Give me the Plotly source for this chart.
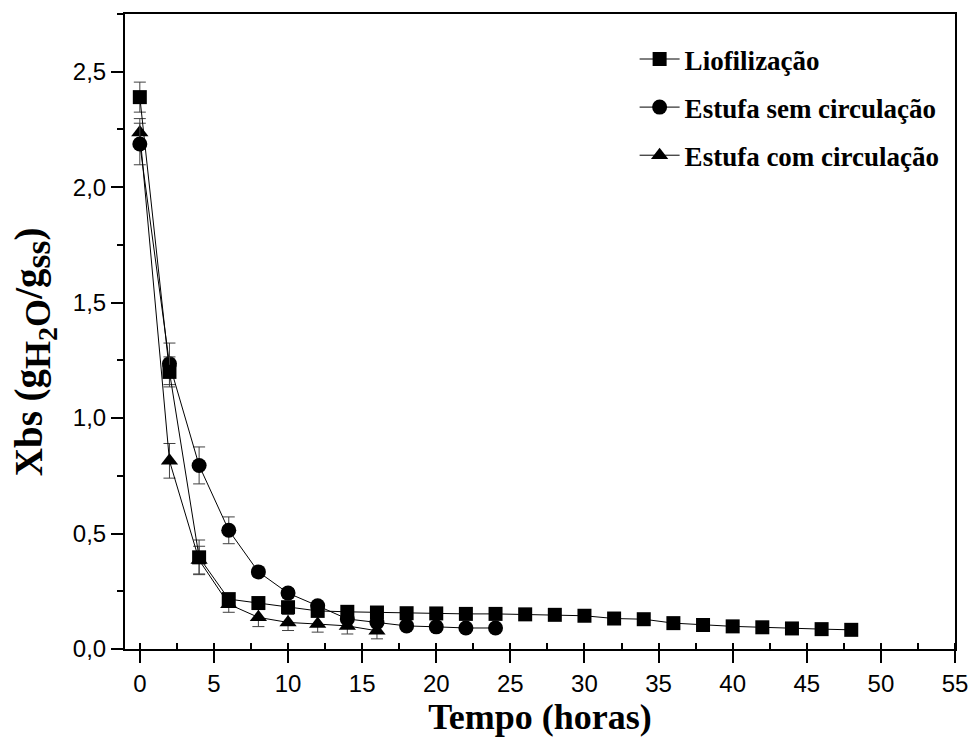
import plotly.graph_objects as go

# ---------------- data ----------------
lio_t = [0, 2, 4, 6, 8, 10, 12, 14, 16, 18, 20, 22, 24, 26, 28, 30, 32, 34, 36, 38, 40, 42, 44, 46, 48]
lio_y = [2.39, 1.20, 0.397, 0.216, 0.199, 0.181, 0.165, 0.161, 0.158, 0.155, 0.154, 0.152, 0.152,
         0.150, 0.148, 0.144, 0.132, 0.129, 0.112, 0.104, 0.098, 0.094, 0.089, 0.086, 0.083]
lio_err = [0.065, 0.065, 0.075, 0.02, 0.015, 0.015, 0.01, 0.01, 0.01, 0.01, 0.01, 0.01, 0.01,
           0.005, 0.005, 0.005, 0.005, 0.005, 0.005, 0.005, 0.005, 0.005, 0.005, 0.005, 0.005]

sem_t = [0, 2, 4, 6, 8, 10, 12, 14, 16, 18, 20, 22, 24]
sem_y = [2.187, 1.235, 0.795, 0.514, 0.334, 0.242, 0.187, 0.130, 0.115, 0.100, 0.096, 0.091, 0.091]
sem_err = [0.09, 0.09, 0.08, 0.058, 0.02, 0.02, 0.015, 0.01, 0.01, 0.01, 0.01, 0.01, 0.01]

com_t = [0, 2, 4, 6, 8, 10, 12, 14, 16]
com_y = [2.237, 0.815, 0.385, 0.194, 0.137, 0.115, 0.108, 0.100, 0.079]
com_err = [0.06, 0.075, 0.06, 0.035, 0.04, 0.035, 0.035, 0.035, 0.035]

names = ["Liofilização", "Estufa sem circulação", "Estufa com circulação"]

x_title = "Tempo (horas)"
y_title = ('Xbs (g<sub><span style="font-size:36px">H<sub><span style="font-size:28px">2</span></sub>O</span></sub>'
           '/g<sub><span style="font-size:36px">ss</span></sub>)')

# ---------------- figure ----------------
serif = "Liberation Serif, Times New Roman, serif"
sans = "Liberation Sans, Arial, sans-serif"
narrow = "Liberation Sans Narrow, Arial Narrow, Liberation Sans, Arial, sans-serif"

fig = go.Figure()

def add(t, y, e, name, symbol, size, group, rank):
    fig.add_trace(go.Scatter(
        x=t, y=y, name=name, mode="lines+markers",
        legendgroup=group, legendrank=rank,
        line=dict(color="black", width=1),
        marker=dict(symbol=symbol, size=size, color="black", line=dict(width=0)),
        error_y=dict(type="data", array=e, visible=True, color="#404040", thickness=1, width=6),
    ))

add(com_t, com_y, com_err, names[2], "triangle-up", 15, "c", 3)
add(sem_t, sem_y, sem_err, names[1], "circle", 15, "b", 2)
add(lio_t, lio_y, lio_err, names[0], "square", 14, "a", 1)

fig.update_layout(
    width=980, height=740,
    margin=dict(l=125, r=18, t=12, b=90),
    paper_bgcolor="white", plot_bgcolor="white",
    separators=",.",
    showlegend=True,
    legend=dict(
        x=0.614, y=0.967, xanchor="left", yanchor="top",
        traceorder="grouped", tracegroupgap=10,
        font=dict(family=serif, size=27, color="black", weight="bold"),
        bgcolor="rgba(0,0,0,0)", borderwidth=0, itemwidth=40,
    ),
    annotations=[dict(
        text=y_title, textangle=-90, showarrow=False,
        xref="paper", yref="paper", x=-0.108, y=0.468,
        xanchor="center", yanchor="middle",
        font=dict(family=serif, size=39, color="black", weight="bold"),
    )],
)

fig.update_xaxes(
    range=[-1, 55], dtick=5, tick0=0,
    showgrid=False, zeroline=False,
    showline=True, linecolor="black", linewidth=2, mirror=True,
    ticks="outside", ticklen=12, tickwidth=2, tickcolor="black",
    minor=dict(dtick=2.5, tick0=0, ticks="inside", ticklen=6, tickwidth=2, tickcolor="black", showgrid=False),
    tickfont=dict(family=narrow, size=24, color="black"),
    title=dict(text=x_title, font=dict(family=serif, size=36, color="black", weight="bold"), standoff=6),
)
fig.update_yaxes(
    range=[0, 2.75], dtick=0.5, tick0=0, tickformat=".1f",
    showgrid=False, zeroline=False,
    showline=True, linecolor="black", linewidth=2, mirror=True,
    ticks="outside", ticklen=12, tickwidth=2, tickcolor="black",
    minor=dict(dtick=0.25, tick0=0, ticks="outside", ticklen=6, tickwidth=2, tickcolor="black", showgrid=False),
    tickfont=dict(family=sans, size=24, color="black"),
)

fig.write_html("out.html")
